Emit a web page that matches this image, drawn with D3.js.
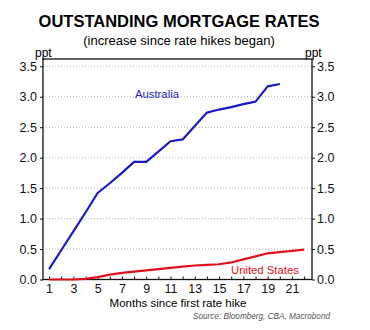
<!DOCTYPE html>
<html>
<head>
<meta charset="utf-8">
<script src="https://cdn.jsdelivr.net/npm/d3@7"></script>
<style>
  html, body { margin: 0; padding: 0; background: #fff; }
  svg { display: block; font-family: "Liberation Sans", Arial, sans-serif; }
</style>
</head>
<body>
<svg id="chart" width="370" height="330"></svg>
<script>
// Months since first rate hike
const months = d3.range(1, 23);
// Increase in outstanding mortgage rates, ppt
const australia = [0.17, 0.48, 0.79, 1.10, 1.42, 1.58, 1.75, 1.93, 1.93, 2.10, 2.27, 2.30, 2.52, 2.74, 2.79, 2.83, 2.88, 2.92, 3.17, 3.21];
const unitedStates = [0.00, 0.00, 0.00, 0.01, 0.04, 0.08, 0.11, 0.13, 0.15, 0.17, 0.19, 0.21, 0.23, 0.24, 0.25, 0.28, 0.33, 0.38, 0.43, 0.45, 0.47, 0.49];
const yTicks = [0, 0.5, 1.0, 1.5, 2.0, 2.5, 3.0, 3.5];
const xTickLabels = [1, 3, 5, 7, 9, 11, 13, 15, 17, 19, 21];

const svg = d3.select("#chart");
const m = { left: 43, right: 312, top: 59, bottom: 279.5 };

const x = d3.scaleLinear().domain([0.5, 22.65]).range([m.left, m.right]);
const y = d3.scaleLinear().domain([0, 3.62]).range([m.bottom, m.top]);

// Titles
svg.append("text").attr("x", 179).attr("y", 27).attr("text-anchor", "middle")
  .attr("font-size", 16.5).attr("font-weight", "bold").text("OUTSTANDING MORTGAGE RATES");
svg.append("text").attr("x", 179).attr("y", 45).attr("text-anchor", "middle")
  .attr("font-size", 13).text("(increase since rate hikes began)");

// Gridlines
svg.append("g").selectAll("line").data(yTicks.filter(d => d > 0)).join("line")
  .attr("x1", m.left).attr("x2", m.right)
  .attr("y1", d => y(d)).attr("y2", d => y(d))
  .attr("stroke", "#b0b0b0").attr("stroke-width", 1).attr("stroke-dasharray", "1,2");

const styleAxis = g => {
  g.select(".domain").remove();
  g.selectAll("text").attr("font-size", 12.5).attr("fill", "#111")
    .attr("font-family", "Liberation Sans, Arial, sans-serif");
  g.selectAll("line").attr("stroke", "#111");
};

// Left and right value axes
const fmt = d3.format(".1f");
svg.append("g").attr("transform", `translate(${m.left},0)`)
  .call(d3.axisLeft(y).tickValues(yTicks).tickFormat(fmt).tickSize(3).tickPadding(3))
  .call(styleAxis);
svg.append("g").attr("transform", `translate(${m.right},0)`)
  .call(d3.axisRight(y).tickValues(yTicks).tickFormat(fmt).tickSize(3).tickPadding(2))
  .call(styleAxis);

// Bottom axis: minor ticks every month pointing up, labels every other month
svg.append("g").attr("transform", `translate(0,${m.bottom})`)
  .call(d3.axisBottom(x).tickValues(months).tickSize(-3).tickPadding(5)
    .tickFormat(d => xTickLabels.includes(d) ? d : ""))
  .call(styleAxis);

// Frame
svg.append("rect").attr("x", m.left).attr("y", m.top)
  .attr("width", m.right - m.left).attr("height", m.bottom - m.top)
  .attr("fill", "none").attr("stroke", "#111").attr("stroke-width", 1.3);

// Unit labels
svg.append("text").attr("x", 35).attr("y", 57).attr("font-size", 12).text("ppt");
svg.append("text").attr("x", 305).attr("y", 57).attr("font-size", 12).text("ppt");

// Lines
const line = d3.line().x((d, i) => x(months[i])).y(d => y(d));
svg.append("path").datum(unitedStates).attr("d", line)
  .attr("fill", "none").attr("stroke", "#e0101e").attr("stroke-width", 2.2).attr("stroke-linejoin", "round");
svg.append("path").datum(australia).attr("d", line)
  .attr("fill", "none").attr("stroke", "#1a1acc").attr("stroke-width", 2.2).attr("stroke-linejoin", "round");

// Series labels
svg.append("text").attr("x", 135).attr("y", 98).attr("font-size", 11.3).attr("fill", "#2424cc").text("Australia");
svg.append("text").attr("x", 231).attr("y", 274).attr("font-size", 11.3).attr("fill", "#e0101e").text("United States");

// Axis title and source
svg.append("text").attr("x", 178).attr("y", 307).attr("text-anchor", "middle")
  .attr("font-size", 11.5).text("Months since first rate hike");
svg.append("text").attr("x", 330).attr("y", 319).attr("text-anchor", "end")
  .attr("font-size", 8.2).attr("font-style", "italic").attr("fill", "#555")
  .text("Source: Bloomberg, CBA, Macrobond");
</script>
</body>
</html>
